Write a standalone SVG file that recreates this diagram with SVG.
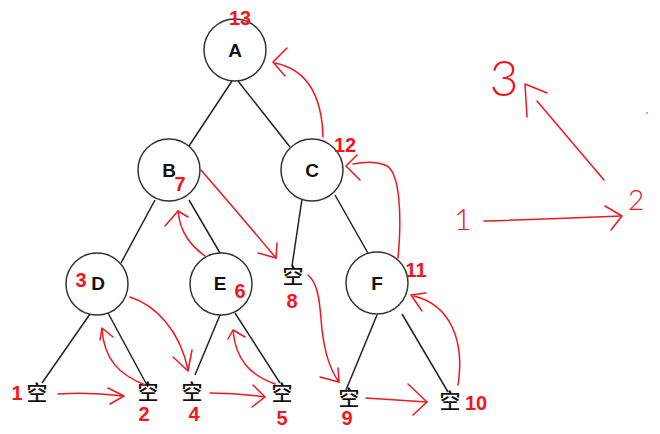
<svg xmlns="http://www.w3.org/2000/svg" width="660" height="434" viewBox="0 0 660 434">
<style>
.node{fill:#fff;stroke:#333;stroke-width:1.5}
.edge{stroke:#222;stroke-width:1.5;fill:none}
.red{stroke:#f5141e;stroke-width:1.5;fill:none;stroke-linecap:round;stroke-linejoin:round}
.lbl{font-family:"Liberation Sans",Arial,sans-serif;font-weight:bold;font-size:19px;fill:#111;text-anchor:middle}
.num{font-family:"Liberation Sans",Arial,sans-serif;font-weight:bold;font-size:20px;fill:#f5141e;text-anchor:middle}
.leaf{font-family:"Noto Sans CJK SC","Noto Sans CJK JP",sans-serif;font-weight:500;font-size:21px;fill:#111;text-anchor:middle}
.hand{font-family:Lato,"Liberation Sans",sans-serif;font-weight:300;fill:#f5141e;text-anchor:middle}
</style>
<rect width="660" height="434" fill="#fff"/>
<g id="edges">
<line class="edge" x1="232" y1="81" x2="189" y2="146"/>
<line class="edge" x1="238" y1="81" x2="290" y2="147"/>
<line class="edge" x1="155" y1="200" x2="121" y2="263"/>
<line class="edge" x1="189" y1="200" x2="220" y2="253"/>
<line class="edge" x1="302" y1="199" x2="292" y2="266"/>
<line class="edge" x1="335" y1="195" x2="369" y2="255"/>
<line class="edge" x1="90" y1="314" x2="42" y2="383"/>
<line class="edge" x1="108" y1="313" x2="148" y2="387"/>
<line class="edge" x1="220" y1="315" x2="195" y2="375"/>
<line class="edge" x1="235" y1="313" x2="280" y2="383"/>
<line class="edge" x1="377" y1="315" x2="346" y2="390"/>
<line class="edge" x1="402" y1="314" x2="448" y2="392"/>
</g>
<g id="node-A"><circle class="node" cx="235" cy="50" r="31"/><text class="lbl" x="235" y="57">A</text><text class="num" x="240" y="25">13</text></g>
<g id="node-B"><circle class="node" cx="169" cy="170" r="31"/><text class="lbl" x="169" y="177">B</text><text class="num" x="180" y="191">7</text></g>
<g id="node-C"><circle class="node" cx="312" cy="170" r="31"/><text class="lbl" x="312" y="177">C</text><text class="num" x="345" y="152">12</text></g>
<g id="node-D"><circle class="node" cx="97" cy="284" r="31"/><text class="lbl" x="98" y="290">D</text><text class="num" x="81" y="287">3</text></g>
<g id="node-E"><circle class="node" cx="221" cy="284" r="31"/><text class="lbl" x="220" y="290">E</text><text class="num" x="240" y="298">6</text></g>
<g id="node-F"><circle class="node" cx="377" cy="283" r="31"/><text class="lbl" x="377" y="290">F</text><text class="num" x="416" y="277">11</text></g>
<g id="leaf-1"><text class="leaf" x="37" y="400">空</text><text class="num" x="17" y="400">1</text></g>
<g id="leaf-2"><text class="leaf" x="148" y="399">空</text><text class="num" x="144" y="421">2</text></g>
<g id="leaf-4"><text class="leaf" x="192" y="399">空</text><text class="num" x="194" y="421">4</text></g>
<g id="leaf-5"><text class="leaf" x="282" y="400">空</text><text class="num" x="282" y="425">5</text></g>
<g id="leaf-8"><text class="leaf" x="293" y="283">空</text><text class="num" x="292" y="308">8</text></g>
<g id="leaf-9"><text class="leaf" x="349" y="405">空</text><text class="num" x="347" y="425">9</text></g>
<g id="leaf-10"><text class="leaf" x="450" y="408">空</text><text class="num" x="476" y="410">10</text></g>
<g id="traversal">
<path class="red" d="M58,394 Q90,392 123,396"/><path class="red" d="M108,388 L124,396 L110,404"/>
<path class="red" d="M145,385 C120,375 104,360 102,329"/><path class="red" d="M100,340 L102,328 L113,337"/>
<path class="red" d="M130,297 C155,305 180,330 188,370"/><path class="red" d="M173,357 L188,371 L192,350"/>
<path class="red" d="M210,393 Q238,393 265,397"/><path class="red" d="M253,385 L265,397 L252,407"/>
<path class="red" d="M275,384 C250,375 236,360 233,331"/><path class="red" d="M228,339 L233,330 L245,337"/>
<path class="red" d="M205,256 C190,245 180,232 178,211"/><path class="red" d="M165,226 L178,211 L188,217"/>
<path class="red" d="M201,170 Q240,215 276,258"/><path class="red" d="M258,253 L276,258 L277,243"/>
<path class="red" d="M308,275 C320,285 320,310 322,330 C325,355 330,370 339,382"/><path class="red" d="M320,377 L339,382 L338,368"/>
<path class="red" d="M366,398 Q396,400 427,402"/><path class="red" d="M408,384 L427,402 L413,415"/>
<path class="red" d="M458,385 C465,340 450,305 414,296"/><path class="red" d="M426,293 L411,295 L422,311"/>
<path class="red" d="M398,258 C402,215 400,170 385,165 C375,161 365,162 353,164"/><path class="red" d="M357,155 L346,166 L360,180"/>
<path class="red" d="M323,137 C322,100 310,70 275,63"/><path class="red" d="M287,48 L273,62 L285,76"/>
</g>
<g id="sketch">
<text class="hand" x="463" y="230" font-size="30">1</text>
<text class="hand" x="636" y="210" font-size="28">2</text>
<text class="hand" x="504" y="96" font-size="50">3</text>
<path class="red" d="M484,221 Q550,219 621,216"/><path class="red" d="M605,206 L622,216 L611,230"/>
<path class="red" d="M604,180 L537,101"/><path class="red" d="M527,117 L525,84 L547,93"/>
<circle cx="647" cy="113" r="0.8" fill="#f5141e"/>
</g>
</svg>
